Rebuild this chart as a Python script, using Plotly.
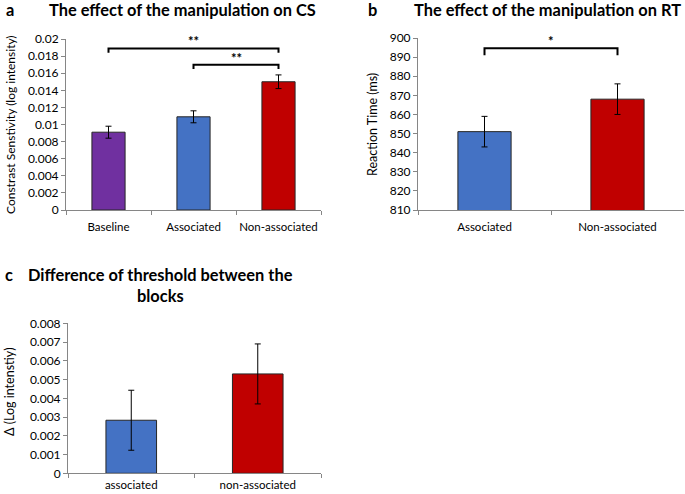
import plotly.graph_objects as go

# ---- data ----
cs_categories = ["Baseline", "Associated", "Non-associated"]
cs_values = [0.0091, 0.0109, 0.0150]
cs_errors = [0.0007, 0.0007, 0.0008]
cs_colors = ["#7030A0", "#4472C4", "#C00000"]
cs_tickvals = [0, 0.002, 0.004, 0.006, 0.008, 0.01, 0.012, 0.014, 0.016, 0.018, 0.02]
cs_ticktext = ["0", "0.002", "0.004", "0.006", "0.008", "0.01", "0.012", "0.014", "0.016", "0.018", "0.02"]

rt_categories = ["Associated", "Non-associated"]
rt_values = [851, 868]
rt_errors = [8, 8]
rt_colors = ["#4472C4", "#C00000"]
rt_tickvals = [810, 820, 830, 840, 850, 860, 870, 880, 890, 900]

diff_categories = ["associated", "non-associated"]
diff_values = [0.00283, 0.00530]
diff_errors = [0.0016, 0.0016]
diff_colors = ["#4472C4", "#C00000"]
diff_tickvals = [0, 0.001, 0.002, 0.003, 0.004, 0.005, 0.006, 0.007, 0.008]
diff_ticktext = ["0", "0.001", "0.002", "0.003", "0.004", "0.005", "0.006", "0.007", "0.008"]

# significance brackets: (from category, to category, bar height, leg end, label)
cs_sig = [("Baseline", "Non-associated", 0.0189, 0.0184, "**"),
          ("Associated", "Non-associated", 0.0170, 0.0165, "**")]
rt_sig = [("Associated", "Non-associated", 894.6, 891.0, "*")]

FONT = "Lato"
W, H = 685, 494

fig = go.Figure()


def add_bars(cats, vals, errs, colors, xa, ya, width):
    fig.add_trace(go.Bar(
        x=cats, y=vals, xaxis=xa, yaxis=ya, width=width,
        marker=dict(color=colors, line=dict(color="#262626", width=1)),
        error_y=dict(type="data", array=errs, color="#000000", thickness=1, width=3),
        showlegend=False, hoverinfo="skip"))


def add_sig(sig, cats, xa, ya):
    for a, b, top, leg, lab in sig:
        fig.add_trace(go.Scatter(
            x=[a, a, b, b], y=[leg, top, top, leg], xaxis=xa, yaxis=ya,
            mode="lines", line=dict(color="#000000", width=2),
            showlegend=False, hoverinfo="skip"))
        mid = (cats.index(a) + cats.index(b)) / 2
        fig.add_annotation(x=mid, y=top, xref=xa, yref=ya, text="<b>%s</b>" % lab,
                           showarrow=False, yanchor="middle", yshift=7,
                           font=dict(family=FONT, size=13, color="#000000"))


add_bars(cs_categories, cs_values, cs_errors, cs_colors, "x", "y", 0.39)
add_sig(cs_sig, cs_categories, "x", "y")
add_bars(rt_categories, rt_values, rt_errors, rt_colors, "x2", "y2", 0.4)
add_sig(rt_sig, rt_categories, "x2", "y2")
add_bars(diff_categories, diff_values, diff_errors, diff_colors, "x3", "y3", 0.4)

axis_col = "#868686"
xcommon = dict(showline=True, linecolor=axis_col, linewidth=1, ticks="outside",
               tickson="boundaries", ticklen=4, tickcolor=axis_col, showgrid=False,
               zeroline=False, fixedrange=True, tickangle=0, automargin=False,
               tickfont=dict(family=FONT, size=11.5, color="#000000"))
ycommon = dict(showline=True, linecolor=axis_col, linewidth=1, ticks="outside",
               ticklen=4, tickcolor=axis_col, showgrid=False, zeroline=False,
               fixedrange=True, automargin=False,
               tickfont=dict(family=FONT, size=12, color="#000000"))

fig.update_layout(
    width=W, height=H, margin=dict(l=0, r=0, t=0, b=0, autoexpand=False),
    paper_bgcolor="white", plot_bgcolor="white", bargap=0.6,
    xaxis=dict(domain=[66 / W, 321 / W], anchor="y", ticklabelstandoff=6, **xcommon),
    yaxis=dict(domain=[1 - 210 / H, 1 - 39 / H], anchor="x", range=[0, 0.02],
               tickvals=cs_tickvals, ticktext=cs_ticktext, **ycommon),
    xaxis2=dict(domain=[418 / W, 684 / W], anchor="y2", ticklabelstandoff=6, **xcommon),
    yaxis2=dict(domain=[1 - 210 / H, 1 - 38 / H], anchor="x2", range=[810, 900],
                tickvals=rt_tickvals, **ycommon),
    xaxis3=dict(domain=[68 / W, 321 / W], anchor="y3", ticklabelstandoff=1, **xcommon),
    yaxis3=dict(domain=[1 - 473.3 / H, 1 - 323.3 / H], anchor="x3", range=[0, 0.008],
                tickvals=diff_tickvals, ticktext=diff_ticktext, **ycommon),
)


def ptext(x, y, text, size=12, bold=False, angle=0):
    fig.add_annotation(x=x / W, y=1 - y / H, xref="paper", yref="paper",
                       text=("<b>%s</b>" % text) if bold else text, showarrow=False,
                       textangle=angle, xanchor="center", yanchor="middle",
                       font=dict(family=FONT, size=size, color="#000000"))


# panel letters and titles
ptext(10, 9, "a", 16.4, True)
ptext(182, 9, "The effect of the manipulation on CS", 16.4, True)
ptext(372, 9, "b", 16.4, True)
ptext(547, 9, "The effect of the manipulation on RT", 16.4, True)
ptext(9, 274, "c", 16.4, True)
ptext(160, 274, "Difference of threshold between the", 16.4, True)
ptext(160, 295, "blocks", 16.4, True)

# y-axis titles
ptext(10, 125, "Constrast Senstivity (log intensity)", 12, angle=-90)
ptext(372, 125, "Reaction Time (ms)", 12.5, angle=-90)
ptext(9, 392, "Δ (Log intenstiy)", 12.5, angle=-90)

# the page has no body margin, so the figure fills the 685x494 window exactly
fig.write_html("out.html", config={"displayModeBar": False, "staticPlot": True},
               post_script="document.body.style.margin='0';")
